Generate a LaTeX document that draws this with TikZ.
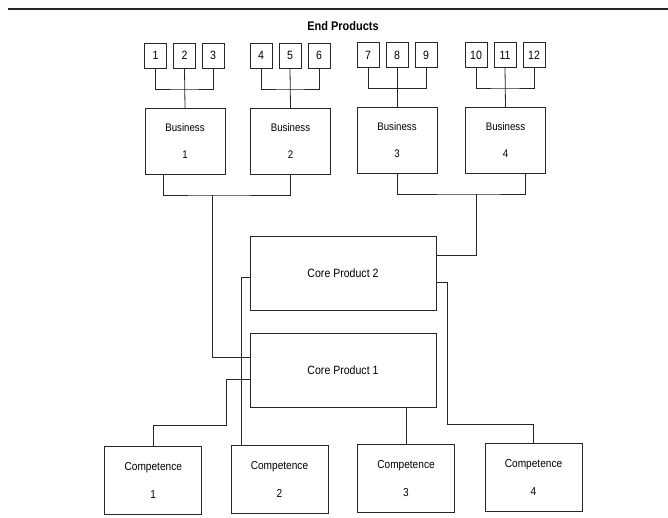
\documentclass[tikz,border=0pt]{standalone}
\usepackage{fontspec}
\setmainfont{Liberation Sans}[FakeStretch=0.88]
\begin{document}
\begin{tikzpicture}[x=1pt,y=-1pt,
  every node/.style={inner sep=0pt, outer sep=0pt},
  box/.style={draw=black!85, line width=0.9pt, align=center},
  numbox/.style={box, minimum width=22pt, minimum height=25pt, font=\fontsize{12}{14}\selectfont},
  busbox/.style={box, minimum width=80pt, minimum height=66pt, font=\fontsize{11}{27}\selectfont},
  corebox/.style={box, minimum width=186pt, minimum height=74pt, font=\fontsize{12}{14}\selectfont},
  compbox/.style={box, minimum width=97pt, minimum height=68pt, font=\fontsize{11.5}{28}\selectfont},
  wire/.style={draw=black!85, line width=0.8pt},
]
\useasboundingbox (0,0) rectangle (668,517);

% top rule and heading
\coordinate (ruleL) at (8,9);
\coordinate (ruleR) at (668,9);
\draw[black!85, line width=1.6pt] (ruleL) -- (ruleR);
\node[font=\bfseries\fontsize{12.5}{14}\selectfont] (title) at (343,26) {End Products};

% end product boxes
\node[numbox] (s1)  at (155.5,55.5) {1};
\node[numbox] (s2)  at (184.5,55.5) {2};
\node[numbox] (s3)  at (213,55.5) {3};
\node[numbox] (s4)  at (261,55.5) {4};
\node[numbox] (s5)  at (290,55.5) {5};
\node[numbox] (s6)  at (319,55.5) {6};
\node[numbox] (s7)  at (368,55) {7};
\node[numbox] (s8)  at (397,55) {8};
\node[numbox] (s9)  at (426,55) {9};
\node[numbox] (s10) at (476,55) {10};
\node[numbox] (s11) at (505,55) {11};
\node[numbox] (s12) at (534,55) {12};

% businesses
\node[busbox] (b1) at (185,141) {Business\\1};
\node[busbox] (b2) at (290.5,141) {Business\\2};
\node[busbox] (b3) at (397,140.5) {Business\\3};
\node[busbox] (b4) at (505.5,140) {Business\\4};

% core products
\node[corebox] (cp2) at (343,273) {Core Product 2};
\node[corebox] (cp1) at (343,370.5) {Core Product 1};

% competences
\node[compbox] (c1) at (153.3,480) {Competence\\1};
\node[compbox] (c2) at (279.5,479) {Competence\\2};
\node[compbox] (c3) at (406,478.5) {Competence\\3};
\node[compbox] (c4) at (533.5,477.5) {Competence\\4};

% junction coordinates
\coordinate (g1) at (184.5,89);
\coordinate (g2) at (290,89);
\coordinate (g3) at (397,88.5);
\coordinate (g4) at (505,88);
\coordinate (j12) at (212,195);
\coordinate (j34) at (476,194);
\coordinate (k1) at (226,425);
\coordinate (k4) at (447,424);

% end products to businesses
\draw[wire] (s1.south) |- (g1) -| (s3.south);
\draw[wire] (s2.south) -- (b1.north);
\draw[wire] (s4.south) |- (g2) -| (s6.south);
\draw[wire] (s5.south) -- (b2.north);
\draw[wire] (s7.south) |- (g3) -| (s9.south);
\draw[wire] (s8.south) -- (b3.north);
\draw[wire] (s10.south) |- (g4) -| (s12.south);
\draw[wire] (s11.south) -- (b4.north);

% businesses to core products
\draw[wire] ([xshift=-22pt]b1.south) |- (j12) -| (b2.south);
\draw[wire] (j12) |- ([yshift=13.5pt]cp1.west);
\draw[wire] (b3.south) |- (j34) -| ([xshift=19.5pt]b4.south);
\draw[wire] (j34) |- ([yshift=18pt]cp2.east);

% core products to competences
\draw[wire] ([yshift=-8.5pt]cp1.west) -| (k1) -| (c1.north);
\draw[wire] ([yshift=-4pt]cp2.west) -| ([xshift=10pt]c2.north west);
\draw[wire] (c3.north |- cp1.south) -- (c3.north);
\draw[wire] ([yshift=-9pt]cp2.east) -| (k4) -| (c4.north);
\end{tikzpicture}
\end{document}
